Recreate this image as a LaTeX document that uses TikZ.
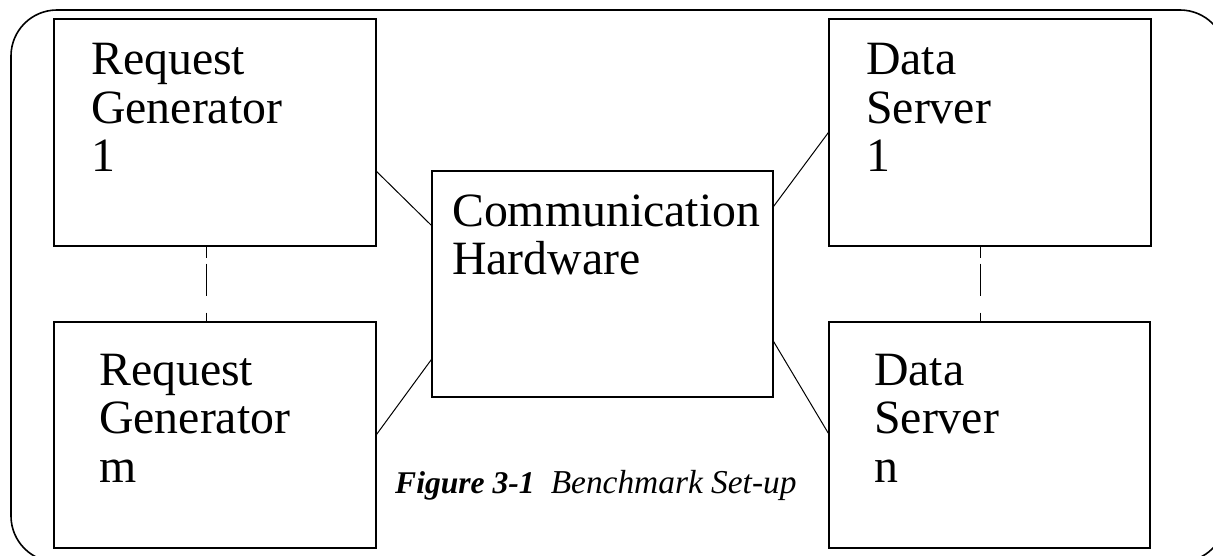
\documentclass[tikz,border=0pt]{standalone}
\usepackage{fontspec}
\setmainfont{Liberation Serif}
\usetikzlibrary{calc}

\tikzset{
  unitbox/.style={draw, line width=1.1pt, rectangle, inner sep=0pt},
  boxtext/.style={inner sep=0pt, anchor=base west,
    font=\fontsize{47.8}{48.5}\selectfont},
  link/.style={line width=1pt},
  gapline/.style={line width=1pt,
    dash pattern=on 11pt off 6pt on 32pt off 17pt on 10pt off 10pt},
  frame/.style={line width=1.6pt, rounded corners=46pt},
  caption/.style={inner sep=0pt, anchor=base west,
    font=\fontsize{33.4}{36}\selectfont\itshape}
}

\begin{document}
\begin{tikzpicture}[x=1pt, y=-1pt]
  \useasboundingbox (0,0) rectangle (1213,556);
  \clip (0,0) rectangle (1213,556);

  % surrounding frame (runs past the right and bottom edges)
  \draw[frame] (11,10) rectangle (1226,562);

  % units
  \node[unitbox, minimum width=322pt, minimum height=227pt] (rg1) at (215,132.5) {};
  \node[unitbox, minimum width=322pt, minimum height=226pt] (rgm) at (215,435) {};
  \node[unitbox, minimum width=322pt, minimum height=227pt] (ds1) at (990,132.5) {};
  \node[unitbox, minimum width=321pt, minimum height=226pt] (dsn) at (989.5,435) {};
  \node[unitbox, minimum width=341pt, minimum height=226pt] (comm) at (602.5,284) {};

  % labels
  \node[boxtext] (rg1t) at (91,75) {\begin{tabular}[t]{@{}l@{}}Request\\Generator\\1\end{tabular}};
  \node[boxtext] (rgmt) at (99,385) {\begin{tabular}[t]{@{}l@{}}Request\\Generator\\m\end{tabular}};
  \node[boxtext] (ds1t) at (866,75) {\begin{tabular}[t]{@{}l@{}}Data\\Server\\1\end{tabular}};
  \node[boxtext] (dsnt) at (874,385) {\begin{tabular}[t]{@{}l@{}}Data\\Server\\n\end{tabular}};
  \node[boxtext] (commt) at (452,226) {\begin{tabular}[t]{@{}l@{}}Communication\\Hardware\end{tabular}};

  % links to the communication hardware
  \draw[link] ($(rg1.north east)+(0,153)$) -- ($(comm.north west)+(0,55)$);
  \draw[link] ($(rgm.north east)+(0,113)$) -- ($(comm.north west)+(0,189)$);
  \draw[link] ($(ds1.north west)+(0,114)$) -- ($(comm.north east)+(0,36)$);
  \draw[link] ($(dsn.north west)+(0,112)$) -- ($(comm.north east)+(0,171)$);

  % elided units in between
  \draw[gapline] ($(rg1.south)+(-9,0)$) -- ($(rgm.north)+(-9,0)$);
  \draw[gapline] ($(ds1.south)+(-10,0)$) -- ($(dsn.north)+(-9.5,0)$);

  % caption
  \node[caption] (cap) at (395,493) {{\fontsize{31.6}{36}\selectfont\bfseries Figure 3-1}\hspace{16pt}Benchmark Set-up};
\end{tikzpicture}
\end{document}
